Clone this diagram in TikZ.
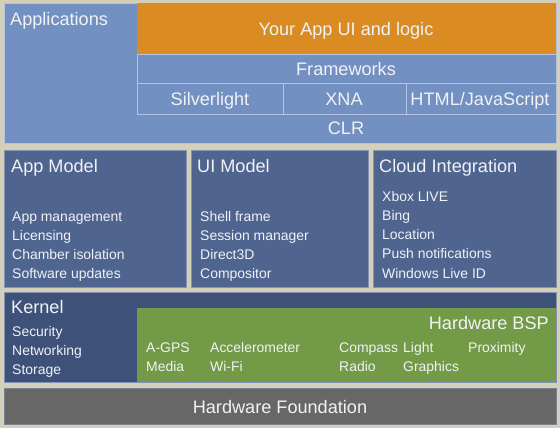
\documentclass[tikz,border=0pt]{standalone}
\usepackage{fontspec}
\setmainfont{Liberation Sans}
\definecolor{backdrop}{HTML}{D3CFB9}
\definecolor{appblue}{HTML}{7290C2}
\definecolor{appline}{HTML}{B4C3DF}
\definecolor{apporange}{HTML}{DA8B22}
\definecolor{midblue}{HTML}{4F6590}
\definecolor{midline}{HTML}{8493B3}
\definecolor{kernblue}{HTML}{3E5179}
\definecolor{bspgreen}{HTML}{739B47}
\definecolor{hwgray}{HTML}{676767}
\definecolor{txt}{HTML}{F0F2F6}

\begin{document}
\begin{tikzpicture}[x=1bp, y=-1bp,
    big/.style={text=txt, inner sep=0pt, text height=13bp, text depth=0pt,
        font=\fontsize{18.2}{20}\selectfont},
    item/.style={text=txt, inner sep=0pt, anchor=west, text height=10bp, text depth=0pt,
        font=\fontsize{14}{16}\selectfont}]
    \fill[backdrop] (0,0) rectangle (560,428);

    % applications layer
    \draw[appline, fill=appblue] (4,3) rectangle (556,143);
    \fill[apporange] (137,3) rectangle (556,54);
    \draw[appline, line width=1pt] (137,54) rectangle (556,83);
    \draw[appline, line width=1pt] (137,83) rectangle (556,114);
    \foreach \x in {283,406} {
        \draw[appline, line width=1pt] (\x,83) -- (\x,114);
    }
    \node[big, anchor=west] (apps) at (10,19) {Applications};
    \node[big] (ui) at (346,29) {Your App UI and logic};
    \node[big] (fw) at (346,69) {Frameworks};
    \node[big] (sl) at (210,99) {Silverlight};
    \node[big] (xna) at (344,99) {XNA};
    \node[big] (html) at (480,99) {HTML/JavaScript};
    \node[big] (clr) at (346,128) {CLR};

    % models
    \foreach \a/\b in {4/186, 191/368, 373/556} {
        \draw[midline, fill=midblue] (\a,150) rectangle (\b,287);
    }
    \node[big, anchor=west] (appmodel) at (11,166) {App Model};
    \node[big, anchor=west] (uimodel) at (197,166) {UI Model};
    \node[big, anchor=west] (cloud) at (379,166) {Cloud Integration};
    \foreach \t [count=\i] in {App management, Licensing, Chamber isolation, Software updates} {
        \node[item] (am\i) at (12,197+19*\i) {\t};
    }
    \foreach \t [count=\i] in {Shell frame, Session manager, Direct3D, Compositor} {
        \node[item] (um\i) at (200,197+19*\i) {\t};
    }
    \foreach \t [count=\i] in {Xbox LIVE, Bing, Location, Push notifications, Windows Live ID} {
        \node[item] (ci\i) at (382,177+19.2*\i) {\t};
    }

    % kernel and hardware
    \draw[midline, fill=kernblue] (4,292) rectangle (556,382);
    \fill[bspgreen] (137,308) rectangle (556,382);
    \node[big, anchor=west] (kernel) at (11,307) {Kernel};
    \foreach \t [count=\i] in {Security, Networking, Storage} {
        \node[item] (kn\i) at (12,312+19*\i) {\t};
    }
    \node[big, anchor=east] (bsp) at (549,323) {Hardware BSP};
    \node[item] (agps) at (146,347) {A-GPS};
    \node[item] (media) at (146,366) {Media};
    \node[item] (accel) at (210,347) {Accelerometer};
    \node[item] (wifi) at (210,366) {Wi-Fi};
    \node[item] (compass) at (339,347) {Compass};
    \node[item] (radio) at (339,366) {Radio};
    \node[item] (light) at (403,347) {Light};
    \node[item] (gfx) at (403,366) {Graphics};
    \node[item] (prox) at (468,347) {Proximity};

    \draw[midline!60!hwgray, fill=hwgray] (4,388) rectangle (556,424);
    \node[big] (hw) at (280,407) {Hardware Foundation};
\end{tikzpicture}
\end{document}
